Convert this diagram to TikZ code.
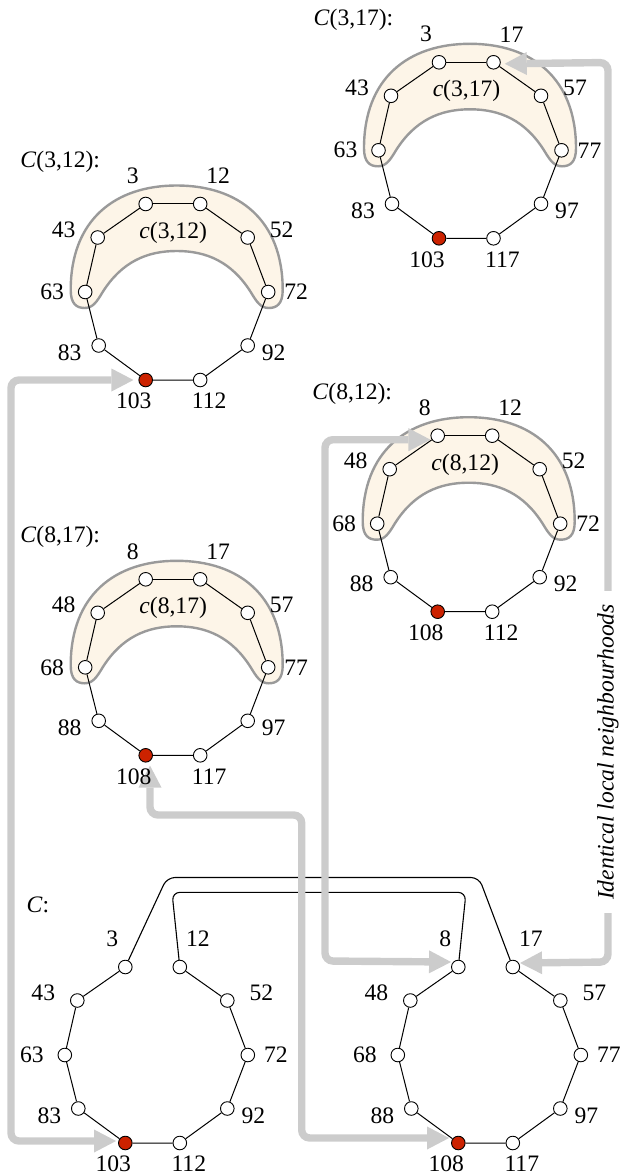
\documentclass[tikz,border=0pt]{standalone}
\usepackage{fontspec}
\setmainfont{Liberation Serif}
\usetikzlibrary{arrows.meta}
\definecolor{garrowc}{HTML}{CCCCCC}
\definecolor{crfill}{HTML}{FDF5E8}
\definecolor{crdraw}{HTML}{9A9A9A}
\definecolor{nred}{HTML}{CC2200}
\pgfdeclarelayer{back}
\pgfdeclarelayer{mid}
\pgfsetlayers{back,mid,main}

% cycle: name, bx, by, a, b
\newcommand\drawcyc[5]{%
  \node[redvtx] (#1-1) at (#2,#3) {};
  \node[vtx] (#1-2) at (#2+54.5,#3) {};
  \node[vtx] (#1-3) at (#2-47,#3-34.5) {};
  \node[vtx] (#1-4) at (#2+102,#3-34.5) {};
  \node[vtx] (#1-5) at (#2-60.5,#3-88) {};
  \node[vtx] (#1-6) at (#2+122.5,#3-88) {};
  \node[vtx] (#1-7) at (#2-48,#3-142.5) {};
  \node[vtx] (#1-8) at (#2+102,#3-142.5) {};
  \node[vtx] (#1-9) at (#2,#3-176) {};
  \node[vtx] (#1-10) at (#2+54.5,#3-176) {};
  \node[lbl] (#1-l1) at (#2-12,#3+21) {\the\numexpr#4+100\relax};
  \node[lbl] (#1-l2) at (#2+63.5,#3+21) {\the\numexpr#5+100\relax};
  \node[lbl] (#1-l3) at (#2-76,#3-27.5) {\the\numexpr#4+80\relax};
  \node[lbl] (#1-l4) at (#2+128,#3-27.5) {\the\numexpr#5+80\relax};
  \node[lbl] (#1-l5) at (#2-93.5,#3-88) {\the\numexpr#4+60\relax};
  \node[lbl] (#1-l6) at (#2+150.5,#3-88) {\the\numexpr#5+60\relax};
  \node[lbl] (#1-l7) at (#2-82,#3-150.5) {\the\numexpr#4+40\relax};
  \node[lbl] (#1-l8) at (#2+136,#3-150.5) {\the\numexpr#5+40\relax};
  \node[lbl] (#1-l9) at (#2-13,#3-204) {#4};
  \node[lbl] (#1-l10) at (#2+72.5,#3-204) {#5};
  \begin{pgfonlayer}{mid}
    \draw[cedge] (#1-9) -- (#1-7) -- (#1-5) -- (#1-3) -- (#1-1) -- (#1-2)
      -- (#1-4) -- (#1-6) -- (#1-8) -- (#1-10);
  \end{pgfonlayer}
}
% upper cycle with crescent, title and inner label
\newcommand\drawupper[5]{%
  \drawcyc{#1}{#2}{#3}{#4}{#5}
  \begin{pgfonlayer}{back}
    \begin{scope}[shift={(#2+31,#3)}]
      \path[crescent] (-106,-90)
        .. controls (-106,-160) and (-62,-194.5) .. (0,-194.5)
        .. controls (62,-194.5) and (106,-160) .. (106,-90)
        .. controls (106,-76) and (100,-72) .. (92,-72)
        .. controls (84,-72) and (80,-78) .. (74,-88)
        .. controls (55,-118) and (30,-129) .. (0,-129)
        .. controls (-30,-129) and (-55,-118) .. (-74,-88)
        .. controls (-80,-78) and (-84,-72) .. (-92,-72)
        .. controls (-100,-72) and (-106,-76) .. (-106,-90) -- cycle;
    \end{scope}
  \end{pgfonlayer}
  \begin{pgfonlayer}{mid}
    \draw[cedge] (#1-9) -- (#1-10);
  \end{pgfonlayer}
  \node[lbl] (#1-title) at (#2-85.5,#3-218) {\textit{C}(#4,#5):};
  \node[lbl] (#1-inner) at (#2+27.5,#3-147) {\textit{c}(#4,#5)};
}

\begin{document}
\begin{tikzpicture}[x=0.5pt,y=-0.5pt,
  font=\fontsize{11.8}{14}\selectfont,
  vtx/.style={circle,draw,fill=white,inner sep=0pt,minimum size=6.8pt,line width=0.45pt},
  redvtx/.style={vtx,fill=nred},
  lbl/.style={inner sep=0pt},
  cedge/.style={line width=0.5pt},
  xline/.style={line width=0.55pt,rounded corners=4pt},
  garrow/.style={draw=garrowc,line width=3.7pt,rounded corners=4pt,
    {Triangle[length=11pt,width=11.5pt,line width=0pt]}-{Triangle[length=11pt,width=11.5pt,line width=0pt]}},
  crescent/.style={fill=crfill,draw=crdraw,line width=1.2pt}
]
\useasboundingbox (0,0) rectangle (621,1176);

\drawupper{A}{145.7}{380}{3}{12}
\drawupper{B}{145.7}{755.3}{8}{17}
\drawupper{D}{439}{238.3}{3}{17}
\drawupper{G}{437.7}{611.7}{8}{12}
\drawcyc{E}{125.3}{1143}{3}{12}
\drawcyc{F}{458.3}{1143}{8}{17}
\node[lbl] (E-title) at (38,905) {\textit{C}:};

% crossing black lines
\coordinate (k1) at (167,877.5);
\coordinate (k2) at (479,877.5);
\coordinate (k3) at (172,892.3);
\coordinate (k4) at (466,892.3);
% gray arrow corners
\coordinate (g1a) at (11,380);
\coordinate (g1b) at (11,1141);
\coordinate (g2a) at (150,815);
\coordinate (g2b) at (301.7,815);
\coordinate (g2c) at (301.7,1138);
\coordinate (g3a) at (325,439.7);
\coordinate (g3b) at (325,961);
\coordinate (g4a) at (608,62.5);
\coordinate (g4b) at (608,962);

\begin{pgfonlayer}{mid}
  \draw[xline] (E-9) -- (k1) -- (k2) -- (F-10);
  \draw[xline] (E-10) -- (k3) -- (k4) -- (F-9);
  \draw[garrow] ([xshift=-2.5pt]A-1.west) -- (g1a) -- (g1b) -- ([xshift=-1pt,yshift=1pt]E-1.west);
  \draw[garrow] ([xshift=2.15pt,yshift=-1.5pt]B-1.south) -- (g2a) -- (g2b) -- (g2c) -- ([xshift=-1pt,yshift=2.5pt]F-1.west);
  \draw[garrow] ([yshift=-2pt]G-9.west) -- (g3a) -- (g3b) -- ([yshift=2.5pt]F-9.west);
  \draw[garrow] ([xshift=2pt,yshift=-0.75pt]D-10.east) -- (g4a) -- (g4b) -- ([yshift=2pt]F-10.east);
\end{pgfonlayer}
\node[fill=white,rotate=90,inner xsep=6.5pt,inner ysep=1pt,font=\fontsize{11.8}{14}\selectfont\itshape] (idtext) at (608,752) {Identical local neighbourhoods};
\end{tikzpicture}
\end{document}
